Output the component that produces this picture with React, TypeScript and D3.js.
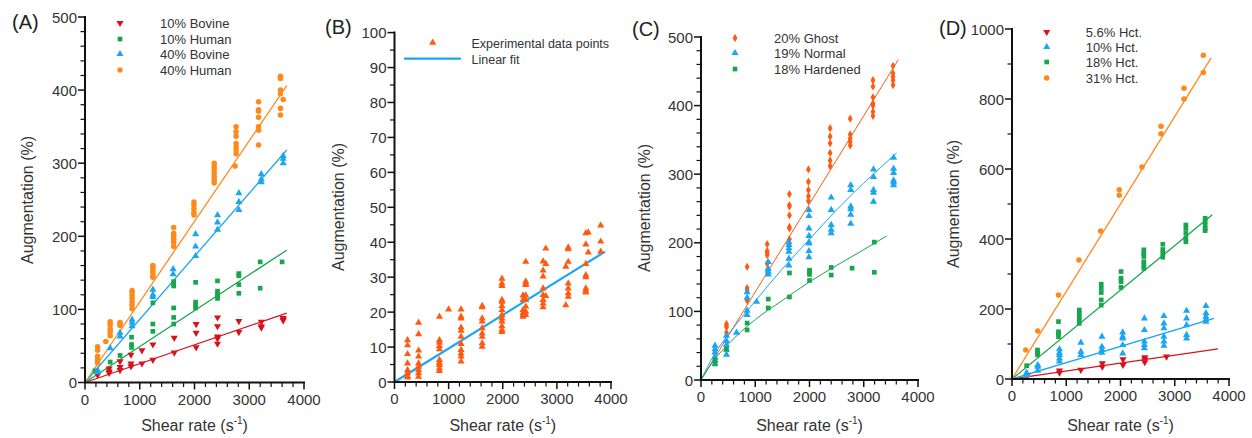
import React from "react";
import * as d3 from "d3";

type Pt = [number, number];

// ---------- Panel A data ----------
const A_BOV10: Pt[] = [[230,10.5],[440,19],[440,15],[440,13],[640,29],[640,21],[640,17],[840,38],[840,26],[840,22],[1040,44],[1040,26],[1240,52],[1240,31],[1630,61],[1630,41],[2030,80],[2030,68],[2030,48],[2420,89],[2420,77],[2420,63],[2420,60],[2420,53],[2810,84],[2810,69],[3220,83],[3220,77],[3220,75],[3620,88],[3620,86],[3620,85]];
const A_HUM10: Pt[] = [[180,16],[460,28],[640,37],[850,62],[850,52],[850,48],[1240,109],[1240,80],[1240,70],[1620,138],[1620,135],[1620,132],[1620,102],[1620,89],[1620,80],[2020,137],[2020,110],[2020,105],[2020,102],[2420,139],[2420,125],[2420,121],[2420,118],[2420,115],[2810,149],[2810,146],[2810,134],[2810,122],[3200,165],[3200,129],[3600,165]];
const A_BOV40: Pt[] = [[230,17],[230,14],[460,47],[640,68],[640,63],[860,86],[860,82],[860,77],[1240,127],[1240,120],[1240,117],[1610,155],[1610,148],[2020,203],[2020,186],[2020,173],[2420,229],[2420,219],[2420,209],[2810,259],[2810,247],[2810,236],[3220,285],[3220,278],[3220,274],[3620,310],[3620,306],[3620,300]];
const A_HUM40: Pt[] = [[230,49],[230,44],[230,36],[230,31],[230,27],[380,56],[460,83],[460,79],[460,73],[460,69],[460,64],[640,82],[640,80],[640,78],[860,126],[860,123],[860,119],[860,115],[860,110],[860,106],[860,101],[1240,160],[1240,157],[1240,153],[1240,150],[1240,146],[1240,144],[1620,212],[1620,204],[1620,200],[1620,196],[1620,192],[1620,186],[1990,247],[1990,243],[1990,238],[1990,233],[1990,229],[2360,300],[2360,295],[2360,291],[2360,286],[2360,281],[2360,277],[2360,273],[2760,350],[2760,343],[2760,337],[2760,327],[2760,322],[2760,318],[2760,313],[2740,296],[3170,384],[3170,373],[3170,371],[3170,363],[3170,350],[3170,345],[3170,325],[3570,419],[3570,416],[3570,400],[3570,395],[3620,387],[3570,375],[3570,366]];
const A_FIT_BOV10: Pt[] = [[0,0],[3684,95]];
const A_FIT_HUM10: Pt[] = [[0,0],[3684,181]];
const A_FIT_BOV40: Pt[] = [[0,0],[3684,318]];
const A_FIT_HUM40: Pt[] = [[0,0],[3684,406]];
const A_LEGEND = ["10% Bovine", "10% Human", "40% Bovine", "40% Human"];

// ---------- Panel B data ----------
const B_POINTS: Pt[] = [
  [241,12],[241,10.5],[241,8],[241,5.3],[241,3.4],[241,2.5],[241,1.7],[241,1.3],
  [445,17],[445,13.7],[445,9],[445,7.3],[445,5.3],[445,4.4],[445,3.4],[445,2.5],[445,1.5],
  [830,18.7],[830,12],[830,11.3],[830,10.3],[830,9.4],[830,6.3],[830,5.5],[830,4.9],[830,3.9],[830,3.2],
  [1000,20.8],
  [1230,20.8],[1230,18.7],[1230,18.2],[1230,15.6],[1230,14.7],[1230,13],[1230,10.9],[1230,9.2],[1230,8.2],[1230,7.3],[1230,5.9],
  [1620,21.8],[1620,21.4],[1620,18.2],[1620,17.3],[1620,15.4],[1620,13.9],[1620,13],[1620,11.1],[1620,10.1],
  [1985,29.6],[1985,28.2],[1985,27.5],[1985,23.5],[1985,23],[1985,21.8],[1985,20.6],[1985,19.2],[1985,18.2],[1985,17.3],[1985,16],[1985,14.9],[1985,14.3],
  [2375,24.8],[2375,23.5],[2375,20.6],[2375,19.8],[2375,19.2],[2375,18.7],
  [2425,34.4],[2425,28.8],[2425,28.2],[2425,27.8],[2425,24.8],[2425,23.5],[2425,21.6],[2425,20.1],[2425,19.2],
  [2745,34.5],[2745,31.9],[2745,30.2],[2745,26.8],[2745,24.9],[2745,23.5],[2745,22.5],[2745,21.4],
  [2795,38.2],[2795,33.8],[2795,24.6],
  [3165,22],[3165,33],
  [3210,38.5],[3210,38],[3210,34.4],[3210,28.2],[3210,26.8],[3210,25.4],[3210,24.4],
  [3535,42.6],[3535,39.4],[3535,33.8],[3535,30.6],[3535,30],[3535,26.8],[3535,26.1],[3535,25.6],
  [3580,42.8],[3580,37.1],
  [3810,44.8],[3810,40.2],[3810,37.3]
];
const B_FIT: Pt[] = [[0,0],[3890,37.3]];
const B_LEGEND = ["Experimental data points", "Linear fit"];

// ---------- Panel C data ----------
const C_GHOST: Pt[] = [[258,40],[470,81.7],[470,79],[470,77],[470,69],[850,165],[850,134],[850,131],[850,118],[850,116],[1220,198],[1220,188],[1220,185],[1220,182],[1220,170],[1220,160],[1630,271],[1630,255],[1630,253],[1630,240],[1630,223],[1630,221],[1630,205],[1980,307],[1980,289],[1980,277],[1980,268],[1980,261],[2380,367],[2380,355],[2380,345],[2380,331],[2380,320],[2380,312],[2750,381],[2750,358],[2750,352],[2750,347],[2750,342],[3170,437],[3170,428],[3170,412],[3170,403],[3170,400],[3170,391],[3170,385],[3540,458],[3540,447],[3540,442],[3540,437],[3540,430]];
const C_NORMAL: Pt[] = [[258,50],[258,45],[258,40],[258,33],[258,28],[258,23],[470,64.5],[470,57],[470,51],[470,44],[470,37],[655,69],[850,128],[850,120],[850,101],[850,95],[1025,114],[1240,172],[1240,162],[1240,158],[1240,154],[1620,201],[1620,197],[1620,192],[1620,187],[1620,177],[1620,167],[1990,248],[1990,239],[1990,221],[1990,210],[1990,201],[1990,199],[1990,188],[1990,179],[2400,266],[2400,248],[2400,226],[2400,219],[2400,214],[2760,284],[2760,277],[2760,253],[2760,249],[2760,241],[2760,228],[3180,307],[3180,296],[3180,277],[3180,273],[3180,260],[3550,324],[3550,308],[3550,302],[3550,291],[3550,288],[3550,284]];
const C_HARD: Pt[] = [[258,29],[258,24],[470,45],[850,83],[850,73],[1240,118],[1240,105],[1630,156],[1630,121],[2000,160],[2000,157],[2000,154],[2000,145],[2400,164],[2400,153],[2785,163],[3195,201],[3195,157]];
const C_FIT_GHOST: Pt[] = [[0,0],[3637,467]];
const C_FIT_NORMAL: Pt[] = [[0,0],[250,38],[500,66],[1000,115],[1500,162],[2000,205],[2500,248],[3000,287],[3607,331]];
const C_FIT_HARD: Pt[] = [[0,0],[250,30],[500,52],[1000,88],[1500,116],[2000,143],[2500,167],[3000,190],[3423,210]];
const C_LEGEND = ["20% Ghost", "19% Normal", "18% Hardened"];

// ---------- Panel D data ----------
const D_H56: Pt[] = [[283,11],[875,24],[875,18],[1270,26],[1665,45],[1665,35],[2046,56],[2046,40],[2447,62],[2447,56],[2447,48],[2848,64]];
const D_H10: Pt[] = [[270,18],[270,11],[475,40],[475,35],[475,24],[875,85],[875,75],[875,69],[875,59],[875,50],[1270,104],[1270,78],[1270,69],[1658,121],[1658,92],[1658,83],[1658,75],[2040,133],[2040,121],[2040,116],[2040,97],[2040,73],[2440,173],[2440,140],[2440,107],[2440,97],[2440,88],[2800,180],[2800,159],[2800,145],[2800,121],[2800,107],[2800,95],[3218,195],[3218,173],[3218,154],[3218,126],[3218,116],[3575,209],[3575,188],[3575,178],[3575,170],[3575,164]];
const D_H18: Pt[] = [[270,38],[470,83],[470,75],[470,69],[857,164],[857,135],[857,130],[857,121],[1240,197],[1240,188],[1240,178],[1240,169],[1240,159],[1645,271],[1645,259],[1645,247],[1645,226],[1645,211],[2010,307],[2010,288],[2010,278],[2010,262],[2430,369],[2430,359],[2430,350],[2430,335],[2430,326],[2430,316],[2780,385],[2780,370],[2780,359],[2780,348],[3205,440],[3205,430],[3205,416],[3205,402],[3205,392],[3560,459],[3560,450],[3560,440],[3560,430],[3560,424]];
const D_H31: Pt[] = [[253,83],[475,137],[857,240],[1233,340],[1633,423],[1978,541],[1978,525],[2396,606],[2747,722],[2747,701],[3171,831],[3171,800],[3527,925],[3527,876]];
const D_FIT_H56: Pt[] = [[0,0],[3797,86]];
const D_FIT_H10: Pt[] = [[0,0],[3723,173]];
const D_FIT_H18: Pt[] = [[0,0],[3692,469]];
const D_FIT_H31: Pt[] = [[0,0],[3668,917]];
const D_LEGEND = ["5.6% Hct.", "10% Hct.", "18% Hct.", "31% Hct."];

const X_TICKS = [0, 1000, 2000, 3000, 4000];

const RED = "#d7121f";
const GREEN = "#17a64c";
const BLUE = "#1ba6ef";
const ORANGE = "#ff8a1c";
const RORANGE = "#ff5a12";
const FONT = "'Liberation Sans', Arial, Helvetica, sans-serif";

type Shape = "down" | "up" | "square" | "circle" | "diamond";

function symPath(shape: Shape): string {
  const g = d3.symbol();
  if (shape === "down" || shape === "up") return g.type(d3.symbolTriangle).size(22)() as string;
  if (shape === "square") return g.type(d3.symbolSquare).size(22)() as string;
  if (shape === "diamond") return g.type(d3.symbolDiamond).size(20)() as string;
  return g.type(d3.symbolCircle).size(24)() as string;
}

function Marker({ x, y, shape, color }: { x: number; y: number; shape: Shape; color: string }) {
  const rot = shape === "down" ? " rotate(180)" : "";
  return <path d={symPath(shape)} transform={`translate(${x},${y})${rot}`} fill={color} />;
}

interface Series { pts: Pt[]; shape: Shape; color: string }
interface Fit { pts: Pt[]; color: string; width: number }

interface PanelProps {
  label: string;
  labelPos: [number, number];
  x0: number; x1: number; y0: number; yTop: number;
  yMax: number; yMajor: number; yMinor: number;
  series: Series[];
  fits: Fit[];
  yTitleX: number; yTitleY: number;
  legend: React.ReactNode;
}

function Panel(p: PanelProps) {
  const xs = d3.scaleLinear().domain([0, 4000]).range([p.x0, p.x1]);
  const ys = d3.scaleLinear().domain([0, p.yMax]).range([p.y0, p.yTop]);
  const yMajors = d3.range(0, p.yMax + 0.001, p.yMajor);
  const yMinors = d3.range(0, p.yMax + 0.001, p.yMinor).filter((v) => Math.abs(v / p.yMajor - Math.round(v / p.yMajor)) > 1e-6);
  const xMinors = d3.range(0, 4000.1, 200).filter((v) => v % 1000 !== 0);
  const line = d3.line<Pt>().x((d) => xs(d[0])).y((d) => ys(d[1])).curve(d3.curveMonotoneX);
  return (
    <g>
      <text x={p.labelPos[0]} y={p.labelPos[1]} fontSize={20} fill="#222" fontFamily={FONT}>{p.label}</text>
      {p.fits.map((f, i) => (
        <path key={"f" + i} d={line(f.pts) as string} fill="none" stroke={f.color} strokeWidth={f.width} />
      ))}
      {p.series.map((s, i) => (
        <g key={"s" + i}>
          {s.pts.map((d, j) => (
            <Marker key={j} x={xs(d[0])} y={ys(d[1])} shape={s.shape} color={s.color} />
          ))}
        </g>
      ))}
      {/* axes */}
      <line x1={p.x0} x2={p.x0} y1={ys(p.yMax) - 1} y2={p.y0 + 1} stroke="#111" strokeWidth={2} />
      <line x1={p.x0 - 1} x2={p.x1 + 1} y1={p.y0} y2={p.y0} stroke="#111" strokeWidth={2} />
      {yMajors.map((v) => (
        <g key={"ym" + v}>
          <line x1={p.x0 - 7} x2={p.x0} y1={ys(v)} y2={ys(v)} stroke="#111" strokeWidth={1.5} />
          <text x={p.x0 - 8} y={ys(v) + 5.5} fontSize={15} textAnchor="end" fill="#333" fontFamily={FONT}>{v}</text>
        </g>
      ))}
      {yMinors.map((v) => (
        <line key={"yn" + v} x1={p.x0 - 4.5} x2={p.x0} y1={ys(v)} y2={ys(v)} stroke="#111" strokeWidth={1.2} />
      ))}
      {X_TICKS.map((v) => (
        <g key={"xm" + v}>
          <line x1={xs(v)} x2={xs(v)} y1={p.y0} y2={p.y0 + 7} stroke="#111" strokeWidth={1.5} />
          <text x={xs(v)} y={p.y0 + 22} fontSize={15} textAnchor="middle" fill="#333" fontFamily={FONT}>{v}</text>
        </g>
      ))}
      {xMinors.map((v) => (
        <line key={"xn" + v} x1={xs(v)} x2={xs(v)} y1={p.y0} y2={p.y0 + 4.5} stroke="#111" strokeWidth={1.2} />
      ))}
      <text transform={`translate(${p.yTitleX},${p.yTitleY}) rotate(-90)`} fontSize={16} textAnchor="middle" fill="#333" fontFamily={FONT}>Augmentation (%)</text>
      <text x={(p.x0 + p.x1) / 2} y={431} fontSize={16} textAnchor="middle" fill="#333" fontFamily={FONT}>
        Shear rate (s<tspan fontSize={10} dy={-7}>-1</tspan><tspan dy={7}>)</tspan>
      </text>
      {p.legend}
    </g>
  );
}

function SymLegend({ x, tx, ys, items, shapes, colors }: { x: number; tx: number; ys: number[]; items: string[]; shapes: Shape[]; colors: string[] }) {
  return (
    <g>
      {items.map((t, i) => (
        <g key={t}>
          <Marker x={x} y={ys[i]} shape={shapes[i]} color={colors[i]} />
          <text x={tx} y={ys[i] + 4.5} fontSize={13} fill="#333" fontFamily={FONT}>{t}</text>
        </g>
      ))}
    </g>
  );
}

export default function App() {
  return (
    <svg width={1252} height={438} style={{ position: "absolute", left: 0, top: 0, background: "#fff" }}>
      <rect width={1252} height={438} fill="#fff" />
      <Panel
        label="(A)" labelPos={[12, 29]}
        x0={85} x1={304} y0={382.5} yTop={17} yMax={500} yMajor={100} yMinor={20}
        series={[
          { pts: A_BOV10, shape: "down", color: RED },
          { pts: A_HUM10, shape: "square", color: GREEN },
          { pts: A_BOV40, shape: "up", color: BLUE },
          { pts: A_HUM40, shape: "circle", color: ORANGE },
        ]}
        fits={[
          { pts: A_FIT_BOV10, color: RED, width: 1.3 },
          { pts: A_FIT_HUM10, color: GREEN, width: 1.3 },
          { pts: A_FIT_BOV40, color: BLUE, width: 1.3 },
          { pts: A_FIT_HUM40, color: ORANGE, width: 1.3 },
        ]}
        yTitleX={33} yTitleY={200}
        legend={<SymLegend x={120} tx={160} ys={[23, 39, 54, 70]} items={A_LEGEND} shapes={["down", "square", "up", "circle"]} colors={[RED, GREEN, BLUE, ORANGE]} />}
      />
      <Panel
        label="(B)" labelPos={[325, 34]}
        x0={394.5} x1={611} y0={382} yTop={32.6} yMax={100} yMajor={10} yMinor={5}
        series={[{ pts: B_POINTS, shape: "up", color: RORANGE }]}
        fits={[{ pts: B_FIT, color: BLUE, width: 2.2 }]}
        yTitleX={344} yTitleY={207}
        legend={
          <g>
            <Marker x={432.7} y={42.7} shape="up" color={RORANGE} />
            <text x={471.5} y={47.5} fontSize={12.5} fill="#333" fontFamily={FONT}>{B_LEGEND[0]}</text>
            <line x1={404} x2={461} y1={58.7} y2={58.7} stroke={BLUE} strokeWidth={2.2} />
            <text x={471.5} y={63.5} fontSize={12.5} fill="#333" fontFamily={FONT}>{B_LEGEND[1]}</text>
          </g>
        }
      />
      <Panel
        label="(C)" labelPos={[632, 36]}
        x0={701} x1={918} y0={380} yTop={37} yMax={500} yMajor={100} yMinor={20}
        series={[
          { pts: C_GHOST, shape: "diamond", color: RORANGE },
          { pts: C_NORMAL, shape: "up", color: BLUE },
          { pts: C_HARD, shape: "square", color: GREEN },
        ]}
        fits={[
          { pts: C_FIT_GHOST, color: RORANGE, width: 1 },
          { pts: C_FIT_NORMAL, color: BLUE, width: 1 },
          { pts: C_FIT_HARD, color: GREEN, width: 1 },
        ]}
        yTitleX={650} yTitleY={208}
        legend={<SymLegend x={735} tx={774} ys={[38, 53, 69]} items={C_LEGEND} shapes={["diamond", "up", "square"]} colors={[RORANGE, BLUE, GREEN]} />}
      />
      <Panel
        label="(D)" labelPos={[939, 35]}
        x0={1012} x1={1229} y0={379} yTop={29} yMax={1000} yMajor={200} yMinor={100}
        series={[
          { pts: D_H56, shape: "down", color: RED },
          { pts: D_H10, shape: "up", color: BLUE },
          { pts: D_H18, shape: "square", color: GREEN },
          { pts: D_H31, shape: "circle", color: ORANGE },
        ]}
        fits={[
          { pts: D_FIT_H56, color: RED, width: 1.3 },
          { pts: D_FIT_H10, color: BLUE, width: 1.3 },
          { pts: D_FIT_H18, color: GREEN, width: 1.3 },
          { pts: D_FIT_H31, color: ORANGE, width: 1.3 },
        ]}
        yTitleX={959} yTitleY={204}
        legend={<SymLegend x={1046.7} tx={1085.7} ys={[32, 47, 62, 78]} items={D_LEGEND} shapes={["down", "up", "square", "circle"]} colors={[RED, BLUE, GREEN, ORANGE]} />}
      />
    </svg>
  );
}
